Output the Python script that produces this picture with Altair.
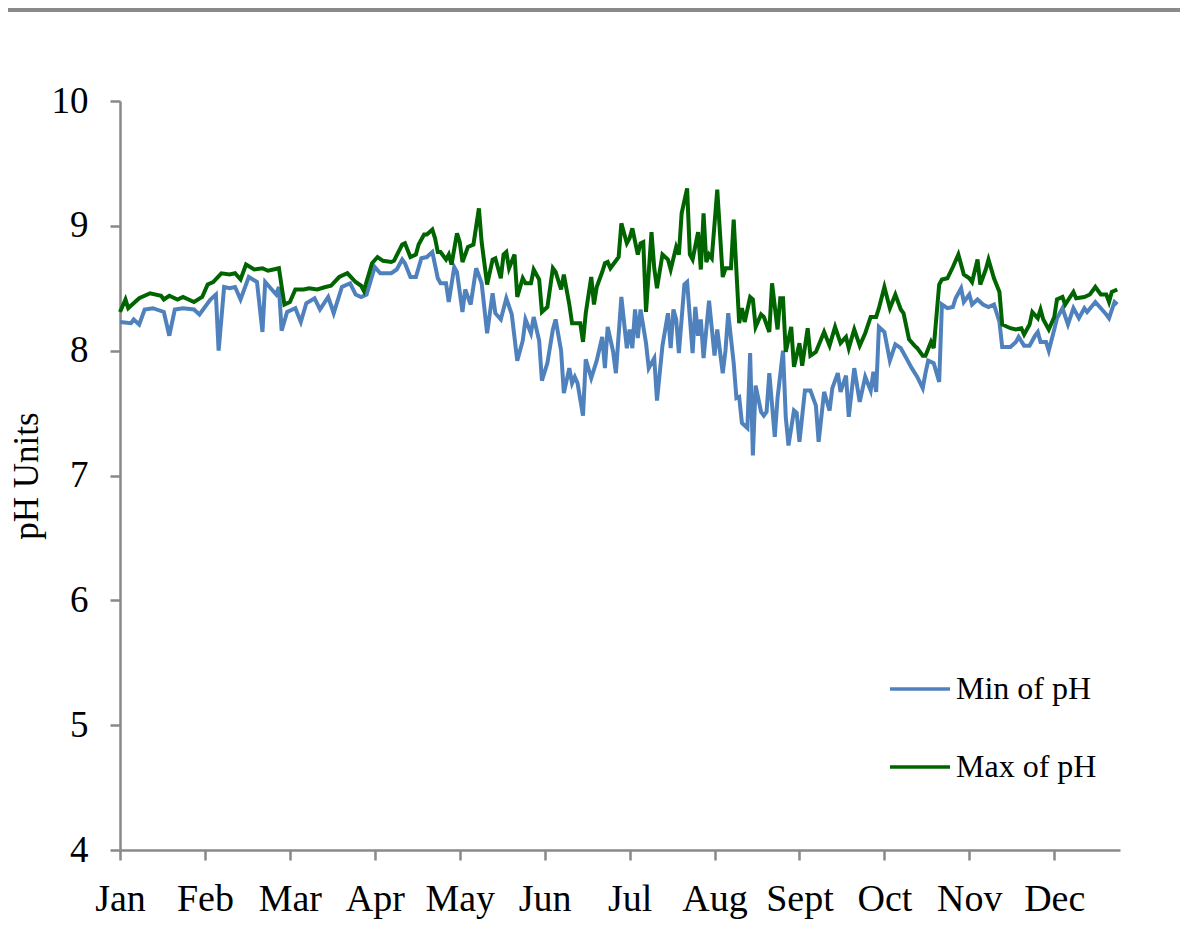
import altair as alt
import pandas as pd

month_labels = ["Jan", "Feb", "Mar", "Apr", "May", "Jun", "Jul", "Aug", "Sept", "Oct", "Nov", "Dec"]
tick_days = [0, 31, 62, 93, 124, 155, 186, 217, 248, 279, 310, 341]
y_ticks = [4, 5, 6, 7, 8, 9, 10]

max_days = [0, 2, 3, 7, 11, 15, 16, 18, 21, 23, 27, 30, 32, 34, 37, 40, 42, 44, 46, 49,
            52, 54, 56, 58, 60, 62, 64, 67, 69, 72, 75, 77, 80, 83, 86, 88, 89, 92, 94, 96,
            99, 100, 103, 104, 106, 108, 109, 111, 112, 114, 115, 116, 117, 119, 120, 121, 123, 124, 125, 127,
            129, 131, 132, 134, 136, 137, 139, 140, 141, 142, 144, 145, 147, 148, 150, 151, 153, 154, 156, 158,
            159, 161, 162, 164, 165, 168, 169, 170, 172, 173, 174, 176, 177, 178, 179, 182, 183, 185, 186, 187,
            189, 190, 191, 192, 194, 195, 196, 198, 200, 201, 203, 204, 205, 207, 208, 209, 211, 212, 213, 214,
            215, 216, 218, 220, 221, 223, 224, 226, 227, 228, 230, 231, 232, 234, 235, 237, 238, 240, 241, 242,
            243, 245, 246, 248, 249, 251, 252, 254, 257, 259, 261, 263, 265, 266, 268, 270, 272, 274, 276, 277,
            279, 281, 283, 285, 286, 288, 290, 291, 293, 294, 296, 297, 299, 300, 302, 304, 306, 308, 310, 311,
            313, 314, 316, 317, 319, 321, 322, 325, 327, 329, 330, 332, 333, 335, 336, 337, 339, 341, 342, 344,
            345, 348, 349, 352, 354, 356, 358, 360, 361, 362, 364]
max_vals = [8.31, 8.41, 8.34, 8.42, 8.46, 8.44, 8.41, 8.44, 8.41, 8.43, 8.39, 8.43, 8.53, 8.55, 8.62, 8.61, 8.62, 8.57, 8.69, 8.65,
            8.66, 8.64, 8.65, 8.66, 8.37, 8.39, 8.49, 8.49, 8.50, 8.49, 8.51, 8.52, 8.59, 8.62, 8.55, 8.52, 8.48, 8.70, 8.75, 8.72,
            8.71, 8.72, 8.85, 8.86, 8.75, 8.77, 8.85, 8.93, 8.93, 8.97, 8.90, 8.79, 8.79, 8.73, 8.77, 8.69, 8.94, 8.87, 8.71, 8.83,
            8.85, 9.14, 8.87, 8.53, 8.73, 8.74, 8.58, 8.77, 8.79, 8.66, 8.77, 8.43, 8.58, 8.54, 8.54, 8.65, 8.57, 8.31, 8.35, 8.66,
            8.63, 8.49, 8.61, 8.37, 8.22, 8.22, 8.07, 8.30, 8.59, 8.37, 8.51, 8.63, 8.70, 8.71, 8.66, 8.75, 9.02, 8.86, 8.90, 8.98,
            8.77, 8.86, 8.87, 8.31, 8.95, 8.66, 8.50, 8.77, 8.73, 8.65, 8.83, 8.77, 9.10, 9.30, 8.77, 8.73, 8.95, 8.65, 9.10, 8.71,
            8.77, 8.74, 9.29, 8.59, 8.66, 8.66, 9.05, 8.22, 8.34, 8.23, 8.43, 8.41, 8.19, 8.29, 8.27, 8.15, 8.54, 8.17, 8.42, 8.42,
            7.99, 8.19, 7.87, 8.06, 7.88, 8.18, 7.96, 7.99, 8.15, 8.04, 8.19, 8.06, 8.11, 8.02, 8.17, 8.04, 8.14, 8.27, 8.27, 8.34,
            8.51, 8.34, 8.45, 8.33, 8.30, 8.09, 8.04, 8.02, 7.96, 7.96, 8.07, 8.02, 8.53, 8.57, 8.58, 8.67, 8.77, 8.61, 8.58, 8.55,
            8.73, 8.53, 8.65, 8.73, 8.58, 8.47, 8.21, 8.18, 8.17, 8.18, 8.13, 8.21, 8.31, 8.26, 8.33, 8.25, 8.17, 8.27, 8.41, 8.43,
            8.37, 8.47, 8.42, 8.43, 8.45, 8.51, 8.45, 8.45, 8.39, 8.47, 8.49]

min_days = [0, 4, 5, 7, 9, 12, 16, 18, 20, 23, 27, 29, 33, 35, 36, 38, 40, 42, 44, 47,
            50, 52, 53, 55, 57, 58, 59, 61, 64, 66, 68, 71, 73, 76, 78, 81, 84, 86, 88, 90,
            93, 95, 99, 101, 103, 104, 106, 108, 110, 112, 114, 116, 117, 119, 120, 122, 123, 125, 126, 128,
            130, 132, 134, 136, 137, 139, 141, 143, 145, 147, 148, 150, 151, 153, 154, 156, 158, 159, 161, 162,
            164, 165, 166, 167, 169, 170, 172, 174, 176, 177, 178, 180, 181, 183, 185, 186, 187, 188, 189, 190,
            192, 193, 195, 196, 198, 200, 201, 202, 203, 204, 206, 207, 209, 210, 211, 212, 213, 215, 217, 218,
            220, 221, 222, 224, 225, 226, 227, 229, 230, 231, 232, 234, 235, 236, 237, 239, 240, 242, 243, 244,
            246, 247, 248, 250, 252, 254, 255, 257, 259, 260, 262, 263, 265, 266, 268, 270, 272, 274, 275, 276,
            277, 279, 281, 283, 285, 287, 289, 291, 293, 294, 295, 297, 299, 300, 302, 304, 305, 307, 308, 310,
            311, 313, 315, 317, 319, 321, 322, 325, 327, 328, 330, 332, 334, 335, 336, 338, 339, 341, 342, 344,
            346, 348, 350, 352, 353, 356, 358, 360, 361, 363, 364]
min_vals = [8.23, 8.22, 8.25, 8.21, 8.33, 8.34, 8.31, 8.12, 8.33, 8.34, 8.33, 8.29, 8.41, 8.45, 8.00, 8.51, 8.50, 8.51, 8.41, 8.59,
            8.55, 8.15, 8.55, 8.50, 8.45, 8.51, 8.16, 8.31, 8.34, 8.23, 8.38, 8.42, 8.33, 8.43, 8.30, 8.51, 8.54, 8.45, 8.43, 8.45,
            8.67, 8.62, 8.62, 8.65, 8.73, 8.70, 8.59, 8.59, 8.74, 8.75, 8.79, 8.58, 8.54, 8.54, 8.39, 8.67, 8.63, 8.31, 8.49, 8.37,
            8.66, 8.54, 8.14, 8.46, 8.30, 8.25, 8.42, 8.29, 7.92, 8.08, 8.25, 8.14, 8.27, 8.08, 7.76, 7.90, 8.17, 8.25, 8.00, 7.66,
            7.86, 7.74, 7.79, 7.74, 7.48, 7.93, 7.78, 7.92, 8.11, 7.86, 8.19, 7.99, 7.82, 8.43, 8.02, 8.17, 8.02, 8.33, 8.10, 8.33,
            8.06, 7.86, 7.94, 7.60, 8.04, 8.30, 8.02, 8.33, 8.25, 7.98, 8.53, 8.55, 7.98, 8.35, 8.12, 8.25, 7.94, 8.40, 7.96, 8.17,
            7.82, 8.00, 8.30, 7.90, 7.62, 7.63, 7.42, 7.38, 7.98, 7.16, 7.72, 7.51, 7.48, 7.51, 7.82, 7.31, 7.62, 8.00, 7.47, 7.24,
            7.52, 7.50, 7.27, 7.68, 7.68, 7.56, 7.27, 7.67, 7.52, 7.70, 7.82, 7.67, 7.80, 7.47, 7.86, 7.59, 7.79, 7.68, 7.83, 7.67,
            8.19, 8.15, 7.92, 8.05, 8.02, 7.94, 7.86, 7.79, 7.70, 7.82, 7.92, 7.90, 7.75, 8.37, 8.34, 8.35, 8.42, 8.50, 8.39, 8.45,
            8.37, 8.41, 8.37, 8.35, 8.37, 8.23, 8.03, 8.03, 8.07, 8.11, 8.04, 8.04, 8.12, 8.15, 8.07, 8.07, 8.00, 8.17, 8.26, 8.34,
            8.21, 8.34, 8.26, 8.34, 8.31, 8.39, 8.34, 8.29, 8.26, 8.39, 8.37]

series_names = ["Min of pH", "Max of pH"]
series_colors = ["#4F81BD", "#006400"]

df = pd.concat([
    pd.DataFrame({"day": min_days, "pH": min_vals, "series": series_names[0]}),
    pd.DataFrame({"day": max_days, "pH": max_vals, "series": series_names[1]}),
], ignore_index=True)

label_expr = "[" + ",".join("'" + m + "'" for m in month_labels) + "][round(datum.value / 31)]"

FONT = "Liberation Serif"
AXIS_GRAY = "#898989"

common_axis = dict(grid=False, domainColor=AXIS_GRAY, domainWidth=2.5, tickColor=AXIS_GRAY,
                   tickWidth=2.5, tickSize=10, labelColor="black", labelFont=FONT)

base = alt.Chart(df).encode(
    x=alt.X("day:Q",
            scale=alt.Scale(domain=[0, 365], nice=False, zero=False),
            axis=alt.Axis(values=tick_days, labelExpr=label_expr, title=None,
                          labelFontSize=38, labelPadding=20, labelFlush=False,
                          labelOverlap=False, **common_axis)),
    y=alt.Y("pH:Q",
            scale=alt.Scale(domain=[4, 10], nice=False, zero=False),
            axis=alt.Axis(values=y_ticks, title="pH Units", labelFontSize=37,
                          labelPadding=22, titleFontSize=35, titleFontWeight="normal",
                          titleFont=FONT, titleColor="black", titlePadding=7,
                          **common_axis)),
    color=alt.Color("series:N",
                    scale=alt.Scale(domain=series_names, range=series_colors),
                    legend=alt.Legend(title=None, orient="none", legendX=768, legendY=556,
                                      symbolType="stroke", symbolSize=3600,
                                      symbolStrokeWidth=3.5, labelFont=FONT,
                                      labelFontSize=32, labelColor="black",
                                      rowPadding=30, labelOffset=4, padding=0)),
)

min_line = base.transform_filter(alt.datum.series == series_names[0]).mark_line(strokeWidth=4)
max_line = base.transform_filter(alt.datum.series == series_names[1]).mark_line(strokeWidth=4)

frame_top = alt.Chart(alt.Data(values=[{"k": 1}])).mark_rule(
    color="#8a8a8a", strokeWidth=4
).encode(x=alt.value(-112), x2=alt.value(1068), y=alt.value(-91))

chart = alt.layer(min_line, max_line, frame_top).properties(
    width=1000, height=749,
    background="white",
    autosize=alt.AutoSizeParams(type="none"),
    padding={"left": 112, "top": 93, "right": 60, "bottom": 81},
).configure_view(stroke=None)

chart.save("out.html", embed_options={"renderer": "svg", "actions": False})
